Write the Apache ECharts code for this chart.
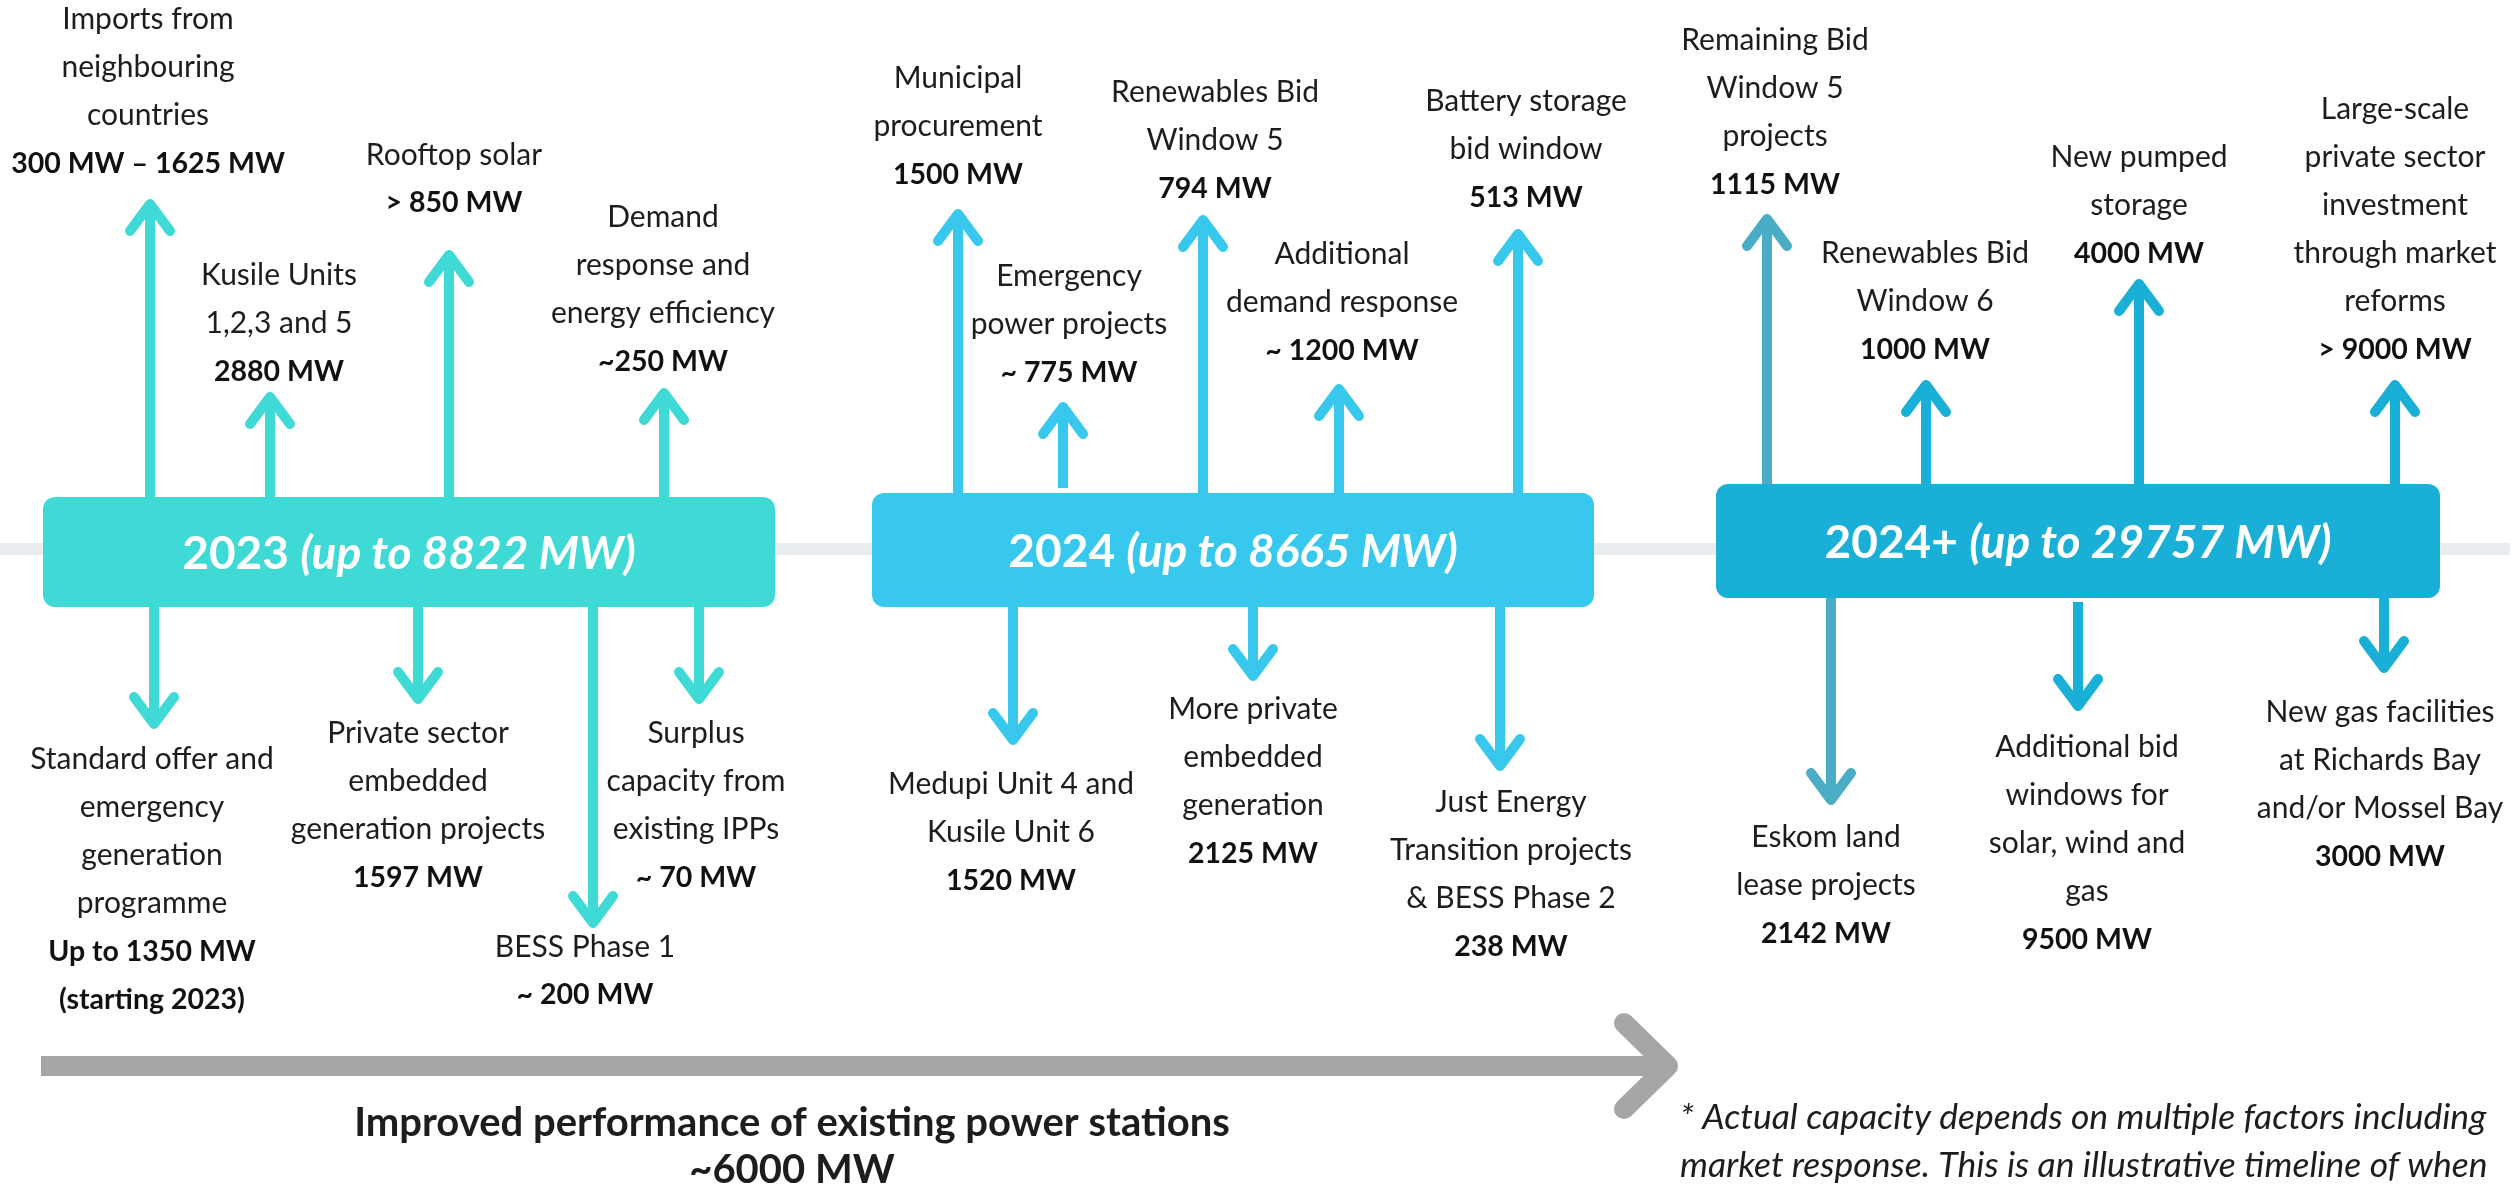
<!DOCTYPE html>
<html><head><meta charset="utf-8">
<script src="https://cdn.jsdelivr.net/npm/echarts@6/dist/echarts.min.js"></script>
<style>html,body{margin:0;padding:0;background:#fff;overflow:hidden}#c{width:2517px;height:1188px}</style>
</head><body><div id="c"></div>
<script>
// ---------- DATA ----------
const periodNames = ['2023', '2024', '2024+'];
const periodTotalsMW = [8822, 8665, 29757];

const itemNames = [
  'Imports from\nneighbouring\ncountries',
  'Kusile Units\n1,2,3 and 5',
  'Rooftop solar',
  'Demand\nresponse and\nenergy efficiency',
  'Standard offer and\nemergency\ngeneration\nprogramme',
  'Private sector\nembedded\ngeneration projects',
  'BESS Phase 1',
  'Surplus\ncapacity from\nexisting IPPs',
  'Municipal\nprocurement',
  'Emergency\npower projects',
  'Renewables Bid\nWindow 5',
  'Additional\ndemand response',
  'Battery storage\nbid window',
  'Medupi Unit 4 and\nKusile Unit 6',
  'More private\nembedded\ngeneration',
  'Just Energy\nTransition projects\n& BESS Phase 2',
  'Remaining Bid\nWindow 5\nprojects',
  'Renewables Bid\nWindow 6',
  'New pumped\nstorage',
  'Large-scale\nprivate sector\ninvestment\nthrough market\nreforms',
  'Eskom land\nlease projects',
  'Additional bid\nwindows for\nsolar, wind and\ngas',
  'New gas facilities\nat Richards Bay\nand/or Mossel Bay'
];
const itemValues = [
  '300 MW \u2013 1625 MW', '2880 MW', '> 850 MW', '~250 MW',
  'Up to 1350 MW\n(starting 2023)', '1597 MW', '~ 200 MW', '~ 70 MW',
  '1500 MW', '~ 775 MW', '794 MW', '~ 1200 MW', '513 MW',
  '1520 MW', '2125 MW', '238 MW',
  '1115 MW', '1000 MW', '4000 MW', '> 9000 MW',
  '2142 MW', '9500 MW', '3000 MW'
];
const itemPeriod = [0,0,0,0, 0,0,0,0, 1,1,1,1,1, 1,1,1, 2,2,2,2, 2,2,2];
const itemDirection = ['up','up','up','up','down','down','down','down',
  'up','up','up','up','up','down','down','down',
  'up','up','up','up','down','down','down'];

const baselineName = 'Improved performance of existing power stations';
const baselineValue = '~6000 MW';
const footnoteLines = [
  '* Actual capacity depends on multiple factors including',
  'market response. This is an illustrative timeline of when'
];

// ---------- LAYOUT / STYLE ----------
const boxRects = [[43,497,775,607],[872,493,1594,607],[1716,484,2440,598]];
const periodColors = ['#3FD9D6', '#38C8EE', '#1AAFD6'];
const altArrowColor = '#4BACC6';
const arrowX =    [150,270,449,664, 154,418,593,699, 958,1063,1203,1339,1518, 1013,1253,1500, 1767,1926,2139,2395, 1831,2078,2384];
const arrowTipY = [199,392,250,388, 729,704,928,704, 209,402,215,384,229,     745,681,771,    214,380,279,380,      805,711,673];
const arrowBaseY = [null,null,null,null, null,null,null,null, null,488,null,null,null, null,null,null, null,null,null,null, null,602,null];
const labelX =    [148,279,454,663, 152,418,585,696, 958,1069,1215,1342,1526, 1011,1253,1511, 1775,1925,2139,2395, 1826,2087,2380];
const labelTopY = [19,275,155,217, 759,733,947,733, 78,276,92,254,101,       784,709,802,     40,253,157,109,      837,747,712];
const lineStep = 48.2;
const FONT = 'Lato';

function arrowColor(i){
  if (itemNames[i].indexOf('Remaining Bid') === 0 || itemNames[i].indexOf('Eskom') === 0) return altArrowColor;
  return periodColors[itemPeriod[i]];
}

const chart = echarts.init(document.getElementById('c'), null, {renderer:'canvas'});

function renderTimeline(params, api){
  const a = api.coord([api.value(0), api.value(1)]);
  const b = api.coord([api.value(2), api.value(1)]);
  return {type:'rect', shape:{x:a[0], y:a[1]-6, width:b[0]-a[0], height:12}, style:{fill:'#E9EDF0'}};
}

function renderArrow(params, api){
  const i = api.value(2);
  const x = api.value(0), tip = api.value(1);
  const box = boxRects[itemPeriod[i]];
  const up = itemDirection[i] === 'up';
  const baseY = arrowBaseY[i] != null ? arrowBaseY[i] : (up ? box[1] + 4 : box[3] - 4);
  const s = up ? 1 : -1;
  const apex = tip + s*5;
  const b = api.coord([x, baseY]);
  const t = api.coord([x, apex]);
  const a1 = api.coord([x-20, apex + s*27]);
  const a2 = api.coord([x+20, apex + s*27]);
  const color = arrowColor(i);
  return {type:'group', children:[
    {type:'line', shape:{x1:b[0], y1:b[1], x2:t[0], y2:t[1]+s*3}, style:{stroke:color, lineWidth:10, lineCap:'butt'}},
    {type:'polyline', shape:{points:[a1, t, a2]}, style:{stroke:color, fill:null, lineWidth:10, lineCap:'round', lineJoin:'round'}}
  ]};
}

function renderBox(params, api){
  const i = api.value(0);
  const r = boxRects[i];
  const p0 = api.coord([r[0], r[1]]), p1 = api.coord([r[2], r[3]]);
  return {type:'group', children:[
    {type:'rect', shape:{x:p0[0], y:p0[1], width:p1[0]-p0[0], height:p1[1]-p0[1], r:12}, style:{fill:periodColors[i]}},
    {type:'text', x:(p0[0]+p1[0])/2, y:(p0[1]+p1[1])/2 + 2,
      style:{text:'{a|' + periodNames[i] + ' }{b|(up to ' + periodTotalsMW[i] + ' MW)}',
        align:'center', verticalAlign:'middle',
        rich:{
          a:{fill:'#fff', fontFamily:FONT, fontWeight:'bold', fontSize:46},
          b:{fill:'#fff', fontFamily:FONT, fontWeight:'bold', fontStyle:'italic', fontSize:46}
        }}}
  ]};
}

function renderLabel(params, api){
  const i = api.value(2);
  const x = api.value(0), y0 = api.value(1);
  const names = itemNames[i].split('\n');
  const vals = itemValues[i].split('\n');
  const children = [];
  let k = 0;
  names.forEach(function(t){
    const p = api.coord([x, y0 + k*lineStep]);
    children.push({type:'text', x:p[0], y:p[1], style:{text:t, fill:'#1d1d1b', fontFamily:FONT, fontSize:30, align:'center', verticalAlign:'middle'}});
    k++;
  });
  vals.forEach(function(t){
    const p = api.coord([x, y0 + k*lineStep]);
    children.push({type:'text', x:p[0], y:p[1], style:{text:t, fill:'#111', fontFamily:FONT, fontWeight:'bold', fontSize:28.5, align:'center', verticalAlign:'middle'}});
    k++;
  });
  return {type:'group', children:children};
}

function renderBaseline(params, api){
  const x0 = api.value(0), y = api.value(1), tipX = api.value(2);
  const a = api.coord([x0, y]);
  const e = api.coord([tipX - 12, y]);
  const t = api.coord([tipX - 10, y]);
  const u = api.coord([tipX - 54, y - 43]);
  const d = api.coord([tipX - 54, y + 43]);
  const c = '#A6A6A6';
  const tx = api.coord([792, 1123]);
  const tv = api.coord([792, 1170]);
  const f1 = api.coord([1680, 1118]);
  const f2 = api.coord([1680, 1166]);
  return {type:'group', children:[
    {type:'line', shape:{x1:a[0], y1:a[1], x2:e[0], y2:e[1]}, style:{stroke:c, lineWidth:20, lineCap:'butt'}},
    {type:'polyline', shape:{points:[u, t, d]}, style:{stroke:c, fill:null, lineWidth:20, lineCap:'round', lineJoin:'round'}},
    {type:'text', x:tx[0], y:tx[1], style:{text:baselineName, fill:'#1d1d1b', fontFamily:FONT, fontWeight:'bold', fontSize:40, align:'center', verticalAlign:'middle'}},
    {type:'text', x:tv[0], y:tv[1], style:{text:baselineValue, fill:'#1d1d1b', fontFamily:FONT, fontWeight:'bold', fontSize:40, align:'center', verticalAlign:'middle'}},
    {type:'text', x:f1[0], y:f1[1], style:{text:footnoteLines[0], fill:'#1d1d1b', fontFamily:FONT, fontStyle:'italic', fontSize:35.5, align:'left', verticalAlign:'middle'}},
    {type:'text', x:f2[0], y:f2[1], style:{text:footnoteLines[1], fill:'#1d1d1b', fontFamily:FONT, fontStyle:'italic', fontSize:35.5, align:'left', verticalAlign:'middle'}}
  ]};
}

chart.setOption({
  backgroundColor:'#ffffff',
  animation:false,
  grid:{left:0, right:0, top:0, bottom:0},
  xAxis:{type:'value', min:0, max:2517, show:false},
  yAxis:{type:'value', min:0, max:1188, inverse:true, show:false},
  series:[
    {type:'custom', coordinateSystem:'cartesian2d', clip:false, renderItem:renderTimeline, data:[[0, 549, 2510]], silent:true},
    {type:'custom', coordinateSystem:'cartesian2d', clip:false, renderItem:renderArrow,
      data:itemNames.map(function(n,i){ return [arrowX[i], arrowTipY[i], i]; }), silent:true},
    {type:'custom', coordinateSystem:'cartesian2d', clip:false, renderItem:renderBox,
      data:periodNames.map(function(n,i){ return [i, 0]; }), silent:true},
    {type:'custom', coordinateSystem:'cartesian2d', clip:false, renderItem:renderLabel,
      data:itemNames.map(function(n,i){ return [labelX[i], labelTopY[i], i]; }), silent:true},
    {type:'custom', coordinateSystem:'cartesian2d', clip:false, renderItem:renderBaseline, data:[[41, 1066, 1678]], silent:true}
  ]
});
</script>
</body></html>
